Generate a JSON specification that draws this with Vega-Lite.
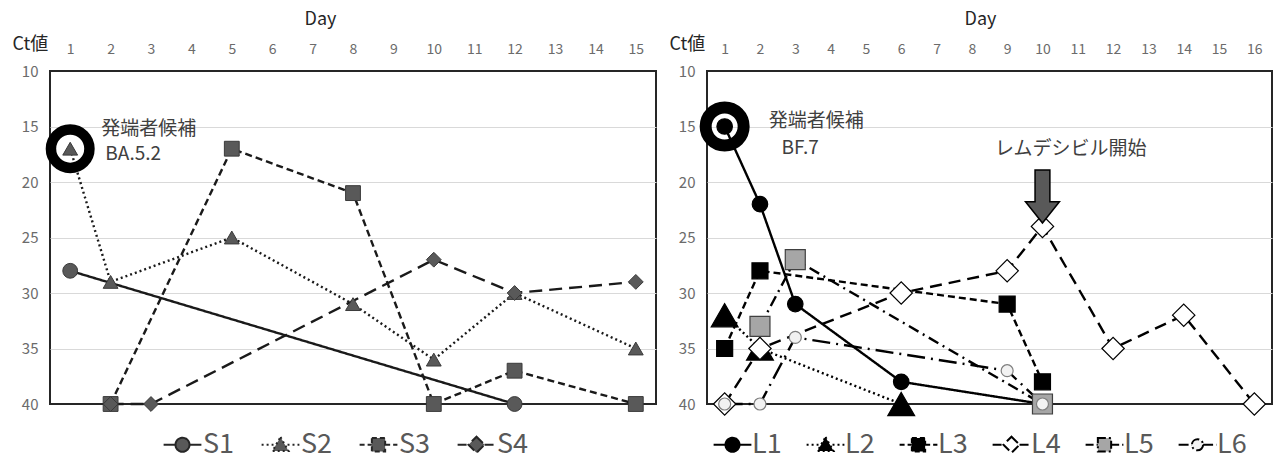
{
  "$schema": "https://vega.github.io/schema/vega-lite/v6.json",
  "padding": {"left": 11, "top": 9, "right": 5, "bottom": 60},
  "spacing": 11,
  "config": {
    "font": "Noto Sans CJK JP",
    "view": {"stroke": "#262626", "strokeWidth": 2},
    "axis": {"labelFont": "Noto Sans CJK JP", "titleFont": "Noto Sans CJK JP"},
    "legend": {"labelFont": "Noto Sans CJK JP"}
  },
  "datasets": {
    "left": [
      {"series": "S1", "day": 1, "ct": 28}, {"series": "S1", "day": 12, "ct": 40},
      {"series": "S2", "day": 1, "ct": 17}, {"series": "S2", "day": 2, "ct": 29}, {"series": "S2", "day": 5, "ct": 25}, {"series": "S2", "day": 8, "ct": 31}, {"series": "S2", "day": 10, "ct": 36}, {"series": "S2", "day": 12, "ct": 30}, {"series": "S2", "day": 15, "ct": 35},
      {"series": "S3", "day": 2, "ct": 40}, {"series": "S3", "day": 5, "ct": 17}, {"series": "S3", "day": 8, "ct": 21}, {"series": "S3", "day": 10, "ct": 40}, {"series": "S3", "day": 12, "ct": 37}, {"series": "S3", "day": 15, "ct": 40},
      {"series": "S4", "day": 2, "ct": 40}, {"series": "S4", "day": 3, "ct": 40}, {"series": "S4", "day": 10, "ct": 27}, {"series": "S4", "day": 12, "ct": 30}, {"series": "S4", "day": 15, "ct": 29}
    ],
    "right": [
      {"series": "L1", "day": 1, "ct": 15}, {"series": "L1", "day": 2, "ct": 22}, {"series": "L1", "day": 3, "ct": 31}, {"series": "L1", "day": 6, "ct": 38}, {"series": "L1", "day": 10, "ct": 40},
      {"series": "L2", "day": 1, "ct": 32}, {"series": "L2", "day": 2, "ct": 35}, {"series": "L2", "day": 6, "ct": 40},
      {"series": "L3", "day": 1, "ct": 35}, {"series": "L3", "day": 2, "ct": 28}, {"series": "L3", "day": 9, "ct": 31}, {"series": "L3", "day": 10, "ct": 38},
      {"series": "L4", "day": 1, "ct": 40}, {"series": "L4", "day": 2, "ct": 35}, {"series": "L4", "day": 6, "ct": 30}, {"series": "L4", "day": 9, "ct": 28}, {"series": "L4", "day": 10, "ct": 24}, {"series": "L4", "day": 12, "ct": 35}, {"series": "L4", "day": 14, "ct": 32}, {"series": "L4", "day": 16, "ct": 40},
      {"series": "L5", "day": 2, "ct": 33}, {"series": "L5", "day": 3, "ct": 27}, {"series": "L5", "day": 10, "ct": 40},
      {"series": "L6", "day": 1, "ct": 40}, {"series": "L6", "day": 2, "ct": 40}, {"series": "L6", "day": 3, "ct": 34}, {"series": "L6", "day": 9, "ct": 37}, {"series": "L6", "day": 10, "ct": 40}
    ]
  },
  "hconcat": [
    {
      "width": 606,
      "height": 333,
      "data": {"name": "left"},
      "encoding": {
        "x": {"field": "day", "type": "quantitative", "scale": {"domain": [0.5, 15.5], "nice": false, "zero": false},
          "axis": {"orient": "top", "title": "Day", "values": [1,2,3,4,5,6,7,8,9,10,11,12,13,14,15], "grid": false, "domain": false, "ticks": false, "labelPadding": 15, "labelFontSize": 14, "labelColor": "#6b6b6b", "labelFlush": false, "titleFontSize": 18, "titleFontWeight": "normal", "titleColor": "#262626", "titleX": 270, "titleY": -52, "titleBaseline": "middle", "titleAlign": "center"}},
        "y": {"field": "ct", "type": "quantitative", "scale": {"domain": [10, 40], "reverse": true, "nice": false, "zero": false},
          "axis": {"title": "Ct値", "values": [10,15,20,25,30,35,40], "grid": true, "gridColor": {"condition": {"test": "datum.value == 10 || datum.value == 40", "value": "transparent"}, "value": "#d9d9d9"}, "gridWidth": 1.2, "domain": false, "ticks": false, "labelPadding": 12, "labelFontSize": 15, "labelColor": "#6b6b6b", "titleAngle": 0, "titleX": -38, "titleY": -27, "titleAlign": "left", "titleBaseline": "middle", "titleFontSize": 18, "titleFontWeight": "normal", "titleColor": "#262626"}}
      },
      "layer": [
        {
          "mark": {"type": "line", "strokeWidth": 2.4, "color": "#1a1a1a"},
          "encoding": {
            "detail": {"field": "series"},
            "strokeDash": {"field": "series", "type": "nominal", "scale": {"domain": ["S4","S3","S2","S1"], "range": [[13,7],[7,4],[2,3],[1,0]]}, "legend": null}
          }
        },
        {
          "mark": {"type": "point", "filled": true, "opacity": 1, "strokeWidth": 1, "fill": "#595959", "stroke": "#3a3a3a", "size": 220},
          "encoding": {
            "shape": {"field": "series", "type": "nominal", "scale": {"domain": ["S1","S2","S3","S4"], "range": ["circle","triangle-up","square","diamond"]}, "legend": null}
          }
        },
        {
          "transform": [{"filter": "false"}],
          "mark": {"type": "point", "filled": true, "opacity": 1, "strokeWidth": 2},
          "encoding": {
            "shape": {"field": "series", "type": "nominal", "scale": {"domain": ["S1","S2","S3","S4"], "range": ["M-2.7,0H-1M1,0H2.7M1,0A1,1,0,1,1,-1,0A1,1,0,1,1,1,0Z", "M-2.7,0H-1M1,0H2.7M0,-1.1L1.15,0.9L-1.15,0.9Z", "M-2.7,0H-0.95M0.95,0H2.7M-0.95,-0.95H0.95V0.95H-0.95Z", "M-2.7,0H-1.15M1.15,0H2.7M0,-1.15L1.15,0L0,1.15L-1.15,0Z"]},
              "legend": {"orient": "none", "legendX": 108, "legendY": 360, "direction": "horizontal", "title": null, "symbolSize": 196, "symbolOffset": 11, "labelOffset": 7, "columnPadding": 21, "labelFontSize": 27, "labelColor": "#595959", "symbolStrokeWidth": 2}},
            "fill": {"field": "series", "type": "nominal", "scale": {"domain": ["S1","S2","S3","S4"], "range": ["#595959","#595959","#595959","#595959"]},
              "legend": {"orient": "none", "legendX": 108, "legendY": 360, "direction": "horizontal", "title": null, "symbolSize": 196, "symbolOffset": 11, "labelOffset": 7, "columnPadding": 21, "labelFontSize": 27, "labelColor": "#595959", "symbolStrokeWidth": 2}},
            "stroke": {"field": "series", "type": "nominal", "scale": {"domain": ["S1","S2","S3","S4"], "range": ["#262626","#262626","#262626","#262626"]},
              "legend": {"orient": "none", "legendX": 108, "legendY": 360, "direction": "horizontal", "title": null, "symbolSize": 196, "symbolOffset": 11, "labelOffset": 7, "columnPadding": 21, "labelFontSize": 27, "labelColor": "#595959", "symbolStrokeWidth": 2}},
            "strokeDash": {"field": "series", "type": "nominal", "scale": {"domain": ["S1","S2","S3","S4"], "range": [[1,0],[2,3],[5,3],[9,4]]},
              "legend": {"orient": "none", "legendX": 108, "legendY": 360, "direction": "horizontal", "title": null, "symbolSize": 196, "symbolOffset": 11, "labelOffset": 7, "columnPadding": 21, "labelFontSize": 27, "labelColor": "#595959", "symbolStrokeWidth": 2}}
          }
        },
        {
          "data": {"values": [{"day": 1, "ct": 17}]},
          "mark": {"type": "point", "shape": "circle", "filled": false, "color": "#000000", "strokeWidth": 10.5, "size": 1482, "opacity": 1}
        },
        {
          "data": {"values": [{"day": 1.77, "ct": 15.2, "label": "発端者候補"}, {"day": 1.87, "ct": 17.5, "label": "BA.5.2"}]},
          "mark": {"type": "text", "align": "left", "baseline": "middle", "fontSize": 19, "color": "#404040"},
          "encoding": {"text": {"field": "label"}}
        }
      ],
      "resolve": {"scale": {"shape": "independent", "fill": "independent", "stroke": "independent", "strokeDash": "independent", "size": "independent"}}
    },
    {
      "width": 565,
      "height": 333,
      "data": {"name": "right"},
      "encoding": {
        "x": {"field": "day", "type": "quantitative", "scale": {"domain": [0.5, 16.5], "nice": false, "zero": false},
          "axis": {"orient": "top", "title": "Day", "values": [1,2,3,4,5,6,7,8,9,10,11,12,13,14,15,16], "grid": false, "domain": false, "ticks": false, "labelPadding": 15, "labelFontSize": 14, "labelColor": "#6b6b6b", "labelFlush": false, "titleFontSize": 18, "titleFontWeight": "normal", "titleColor": "#262626", "titleX": 273, "titleY": -52, "titleBaseline": "middle", "titleAlign": "center"}},
        "y": {"field": "ct", "type": "quantitative", "scale": {"domain": [10, 40], "reverse": true, "nice": false, "zero": false},
          "axis": {"title": "Ct値", "values": [10,15,20,25,30,35,40], "grid": true, "gridColor": {"condition": {"test": "datum.value == 10 || datum.value == 40", "value": "transparent"}, "value": "#d9d9d9"}, "gridWidth": 1.2, "domain": false, "ticks": false, "labelPadding": 12, "labelFontSize": 15, "labelColor": "#6b6b6b", "titleAngle": 0, "titleX": -38, "titleY": -27, "titleAlign": "left", "titleBaseline": "middle", "titleFontSize": 18, "titleFontWeight": "normal", "titleColor": "#262626"}}
      },
      "layer": [
        {
          "mark": {"type": "line", "strokeWidth": 2.4, "color": "#000000"},
          "encoding": {
            "detail": {"field": "series"},
            "strokeDash": {"field": "series", "type": "nominal", "scale": {"domain": ["L6","L1","L2","L3","L4","L5"], "range": [[18,6,2,6],[1,0],[2,3],[7,4],[12,7],[11,5,2,5]]}, "legend": null}
          }
        },
        {
          "mark": {"type": "point", "filled": true, "opacity": 1, "strokeWidth": 1.2},
          "encoding": {
            "shape": {"field": "series", "type": "nominal", "scale": {"domain": ["L1","L2","L3","L4","L5","L6"], "range": ["circle","triangle-up","square","diamond","square","circle"]}, "legend": null},
            "fill": {"field": "series", "type": "nominal", "scale": {"domain": ["L6","L5","L4","L3","L2","L1"], "range": ["#f2f2f2","#a6a6a6","#ffffff","#000000","#000000","#000000"]}, "legend": null},
            "stroke": {"field": "series", "type": "nominal", "scale": {"domain": ["L2","L1","L3","L4","L5","L6"], "range": ["#000000","#000000","#000000","#000000","#404040","#7f7f7f"]}, "legend": null},
            "size": {"field": "series", "type": "nominal", "scale": {"type": "ordinal", "domain": ["L1","L3","L2","L4","L5","L6"], "range": [240, 256, 720, 500, 400, 144]}, "legend": null}
          }
        },
        {
          "transform": [{"filter": "false"}],
          "mark": {"type": "point", "filled": true, "opacity": 1, "strokeWidth": 2},
          "encoding": {
            "shape": {"field": "series", "type": "nominal", "scale": {"domain": ["L1","L2","L3","L4","L5","L6"], "range": ["M-2.7,0H-1M1,0H2.7M1,0A1,1,0,1,1,-1,0A1,1,0,1,1,1,0Z", "M-2.7,0H-1M1,0H2.7M0,-1.1L1.15,0.9L-1.15,0.9Z", "M-2.7,0H-0.95M0.95,0H2.7M-0.95,-0.95H0.95V0.95H-0.95Z", "M-2.7,0H-1.15M1.15,0H2.7M0,-1.15L1.15,0L0,1.15L-1.15,0Z", "M-2.7,0H-0.95M0.95,0H2.7M-0.95,-0.95H0.95V0.95H-0.95Z", "M-2.7,0H-0.8M0.8,0H2.7M0.8,0A0.8,0.8,0,1,1,-0.8,0A0.8,0.8,0,1,1,0.8,0Z"]},
              "legend": {"orient": "none", "legendX": 1, "legendY": 360, "direction": "horizontal", "title": null, "symbolSize": 196, "symbolOffset": 11, "labelOffset": 6, "columnPadding": 19, "labelFontSize": 27, "labelColor": "#595959", "symbolStrokeWidth": 2}},
            "fill": {"field": "series", "type": "nominal", "scale": {"domain": ["L1","L2","L3","L4","L5","L6"], "range": ["#000000","#000000","#000000","#ffffff","#a6a6a6","#f2f2f2"]},
              "legend": {"orient": "none", "legendX": 1, "legendY": 360, "direction": "horizontal", "title": null, "symbolSize": 196, "symbolOffset": 11, "labelOffset": 6, "columnPadding": 19, "labelFontSize": 27, "labelColor": "#595959", "symbolStrokeWidth": 2}},
            "stroke": {"field": "series", "type": "nominal", "scale": {"domain": ["L1","L2","L3","L4","L5","L6"], "range": ["#000000","#000000","#000000","#000000","#000000","#000000"]},
              "legend": {"orient": "none", "legendX": 1, "legendY": 360, "direction": "horizontal", "title": null, "symbolSize": 196, "symbolOffset": 11, "labelOffset": 6, "columnPadding": 19, "labelFontSize": 27, "labelColor": "#595959", "symbolStrokeWidth": 2}},
            "strokeDash": {"field": "series", "type": "nominal", "scale": {"domain": ["L1","L2","L3","L4","L5","L6"], "range": [[1,0],[2,3],[5,3],[9,4],[8,3,2,3],[10,3,2,3]]},
              "legend": {"orient": "none", "legendX": 1, "legendY": 360, "direction": "horizontal", "title": null, "symbolSize": 196, "symbolOffset": 11, "labelOffset": 6, "columnPadding": 19, "labelFontSize": 27, "labelColor": "#595959", "symbolStrokeWidth": 2}}
          }
        },
        {
          "data": {"values": [{"day": 1, "ct": 15}]},
          "mark": {"type": "point", "shape": "circle", "filled": false, "color": "#000000", "strokeWidth": 12, "size": 1444, "opacity": 1}
        },
        {
          "data": {"values": [{"day": 10, "ct": 21.3}]},
          "mark": {"type": "point", "shape": "M-0.28,-1H0.28V0.2H0.64L0,1L-0.64,0.2H-0.28Z", "filled": true, "fill": "#595959", "stroke": "#000000", "strokeWidth": 1.5, "size": 2809, "opacity": 1}
        },
        {
          "data": {"values": [{"day": 2.25, "ct": 14.5, "label": "発端者候補"}, {"day": 2.61, "ct": 16.9, "label": "BF.7"}]},
          "mark": {"type": "text", "align": "left", "baseline": "middle", "fontSize": 19, "color": "#404040"},
          "encoding": {"text": {"field": "label"}}
        },
        {
          "data": {"values": [{"day": 10.8, "ct": 17.0, "label": "レムデシビル開始"}]},
          "mark": {"type": "text", "align": "center", "baseline": "middle", "fontSize": 19, "color": "#404040"},
          "encoding": {"text": {"field": "label"}}
        }
      ],
      "resolve": {"scale": {"shape": "independent", "fill": "independent", "stroke": "independent", "strokeDash": "independent", "size": "independent"}}
    }
  ],
  "resolve": {
    "scale": {"shape": "independent", "fill": "independent", "stroke": "independent", "size": "independent", "strokeDash": "independent", "x": "independent", "y": "independent"},
    "legend": {"shape": "independent"}
  }
}
